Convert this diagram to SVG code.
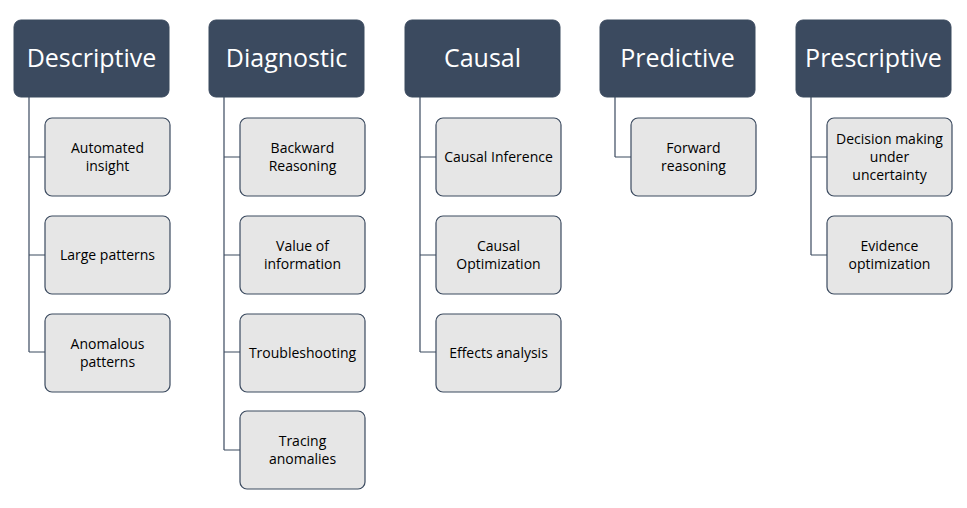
<svg xmlns="http://www.w3.org/2000/svg" width="967" height="508" viewBox="0 0 967 508">
<style>
.h{fill:#3b4a5f;stroke:#3b4a5f;stroke-width:1}
.ht{fill:#ffffff;font-family:"Open Sans","Liberation Sans",sans-serif;font-size:25px;text-anchor:middle}
.c{fill:#e6e6e6;stroke:#3b4a5f;stroke-width:1.2}
.ct{fill:#000000;font-family:"Open Sans","Liberation Sans",sans-serif;font-size:14px;text-anchor:middle}
.l{fill:none;stroke:#3b4a5f;stroke-width:1.2}
</style>
<rect width="967" height="508" fill="#ffffff"/>
<g id="connectors">
<path class="l" d="M29 97V352M29 157H45M29 255H45M29 352H45"/>
<path class="l" d="M224 97V450M224 157H240M224 255H240M224 352H240M224 450H240"/>
<path class="l" d="M420 97V352M420 157H436M420 255H436M420 352H436"/>
<path class="l" d="M615 97V157M615 157H631"/>
<path class="l" d="M811 97V255M811 157H827M811 255H827"/>
</g>
<g id="descriptive"><rect class="h" x="14" y="20" width="155" height="77" rx="7"/><text class="ht" x="91.5" y="67">Descriptive</text></g>
<g id="diagnostic"><rect class="h" x="209" y="20" width="155" height="77" rx="7"/><text class="ht" x="286.5" y="67">Diagnostic</text></g>
<g id="causal"><rect class="h" x="405" y="20" width="155" height="77" rx="7"/><text class="ht" x="482.5" y="67">Causal</text></g>
<g id="predictive"><rect class="h" x="600" y="20" width="155" height="77" rx="7"/><text class="ht" x="677.5" y="67">Predictive</text></g>
<g id="prescriptive"><rect class="h" x="796" y="20" width="155" height="77" rx="7"/><text class="ht" x="873.5" y="67">Prescriptive</text></g>

<g id="automated-insight"><rect class="c" x="45" y="118" width="125" height="78" rx="7"/><text class="ct" x="107.5" y="153">Automated</text><text class="ct" x="107.5" y="171">insight</text></g>
<g id="large-patterns"><rect class="c" x="45" y="216" width="125" height="78" rx="7"/><text class="ct" x="107.5" y="260">Large patterns</text></g>
<g id="anomalous-patterns"><rect class="c" x="45" y="314" width="125" height="78" rx="7"/><text class="ct" x="107.5" y="349">Anomalous</text><text class="ct" x="107.5" y="367">patterns</text></g>

<g id="backward-reasoning"><rect class="c" x="240" y="118" width="125" height="78" rx="7"/><text class="ct" x="302.5" y="153">Backward</text><text class="ct" x="302.5" y="171">Reasoning</text></g>
<g id="value-of-information"><rect class="c" x="240" y="216" width="125" height="78" rx="7"/><text class="ct" x="302.5" y="251">Value of</text><text class="ct" x="302.5" y="269">information</text></g>
<g id="troubleshooting"><rect class="c" x="240" y="314" width="125" height="78" rx="7"/><text class="ct" x="302.5" y="358">Troubleshooting</text></g>
<g id="tracing-anomalies"><rect class="c" x="240" y="411" width="125" height="78" rx="7"/><text class="ct" x="302.5" y="446">Tracing</text><text class="ct" x="302.5" y="464">anomalies</text></g>

<g id="causal-inference"><rect class="c" x="436" y="118" width="125" height="78" rx="7"/><text class="ct" x="498.5" y="162">Causal Inference</text></g>
<g id="causal-optimization"><rect class="c" x="436" y="216" width="125" height="78" rx="7"/><text class="ct" x="498.5" y="251">Causal</text><text class="ct" x="498.5" y="269">Optimization</text></g>
<g id="effects-analysis"><rect class="c" x="436" y="314" width="125" height="78" rx="7"/><text class="ct" x="498.5" y="358">Effects analysis</text></g>

<g id="forward-reasoning"><rect class="c" x="631" y="118" width="125" height="78" rx="7"/><text class="ct" x="693.5" y="153">Forward</text><text class="ct" x="693.5" y="171">reasoning</text></g>

<g id="decision-making"><rect class="c" x="827" y="118" width="125" height="78" rx="7"/><text class="ct" x="889.5" y="144">Decision making</text><text class="ct" x="889.5" y="162">under</text><text class="ct" x="889.5" y="180">uncertainty</text></g>
<g id="evidence-optimization"><rect class="c" x="827" y="216" width="125" height="78" rx="7"/><text class="ct" x="889.5" y="251">Evidence</text><text class="ct" x="889.5" y="269">optimization</text></g>
</svg>
